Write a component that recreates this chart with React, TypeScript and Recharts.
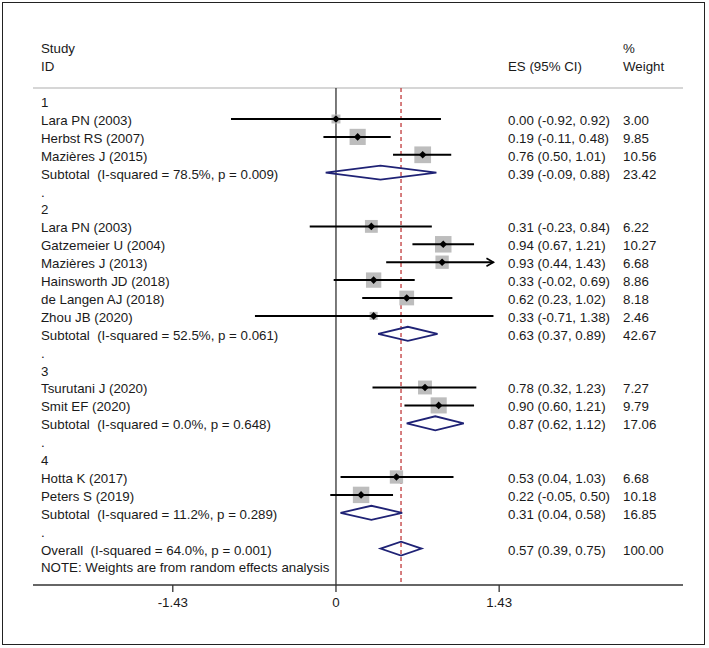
import React from 'react';
import { ScatterChart, Scatter, XAxis, YAxis, ReferenceLine } from 'recharts';

// subgroup ids
const groupIds = ['1', '2', '3', '4'];

// individual studies
const studyNames = [
  'Lara PN (2003)', 'Herbst RS (2007)', 'Mazières J (2015)',
  'Lara PN (2003)', 'Gatzemeier U (2004)', 'Mazières J (2013)', 'Hainsworth JD (2018)', 'de Langen AJ (2018)', 'Zhou JB (2020)',
  'Tsurutani J (2020)', 'Smit EF (2020)',
  'Hotta K (2017)', 'Peters S (2019)',
];
const studyGroup = [0, 0, 0, 1, 1, 1, 1, 1, 1, 2, 2, 3, 3];
const studyES = [0.0, 0.19, 0.76, 0.31, 0.94, 0.93, 0.33, 0.62, 0.33, 0.78, 0.9, 0.53, 0.22];
const studyLow = [-0.92, -0.11, 0.5, -0.23, 0.67, 0.44, -0.02, 0.23, -0.71, 0.32, 0.6, 0.04, -0.05];
const studyHigh = [0.92, 0.48, 1.01, 0.84, 1.21, 1.43, 0.69, 1.02, 1.38, 1.23, 1.21, 1.03, 0.5];
const studyWeight = [3.0, 9.85, 10.56, 6.22, 10.27, 6.68, 8.86, 8.18, 2.46, 7.27, 9.79, 6.68, 10.18];

// subtotals
const subtotalI2 = ['78.5', '52.5', '0.0', '11.2'];
const subtotalP = ['0.009', '0.061', '0.648', '0.289'];
const subtotalES = [0.39, 0.63, 0.87, 0.31];
const subtotalLow = [-0.09, 0.37, 0.62, 0.04];
const subtotalHigh = [0.88, 0.89, 1.12, 0.58];
const subtotalWeight = [23.42, 42.67, 17.06, 16.85];

// overall
const overallES = 0.57;
const overallLow = 0.39;
const overallHigh = 0.75;
const overallWeight = 100.0;
const overallI2 = '64.0';
const overallP = '0.001';

const xTicks = [-1.43, 0, 1.43];
const ciLimit = 1.38; // right end of the drawn CI range, longer CIs get an arrow

const FONT = '"Liberation Sans", Arial, Helvetica, sans-serif';
const W = 709;
const H = 648;
// plot area: x 33..683, y 40..585
const margin = { top: 40, right: 26, bottom: 33, left: 32 };
const xDomain = [-2.655, 3.041];
const yDomain = [-3.413, 27.034];
const headerLineRow = -0.732;

const fmtCI = (es: number, lo: number, hi: number) =>
  `${es.toFixed(2)} (${lo.toFixed(2)}, ${hi.toFixed(2)})`;

type TextRow = { row: number; label: string; es?: string; wt?: string };
type StudyRow = { row: number; es: number; lo: number; hi: number; w: number };
type PooledRow = { row: number; es: number; lo: number; hi: number };

const textRows: TextRow[] = [
  { row: -3, label: 'Study', wt: '%' },
  { row: -2, label: 'ID', es: 'ES (95% CI)', wt: 'Weight' },
];
const studyRows: StudyRow[] = [];
const pooledRows: PooledRow[] = [];

let r = 0;
groupIds.forEach((g, gi) => {
  textRows.push({ row: r++, label: g });
  studyNames.forEach((name, i) => {
    if (studyGroup[i] !== gi) return;
    textRows.push({ row: r, label: name, es: fmtCI(studyES[i], studyLow[i], studyHigh[i]), wt: studyWeight[i].toFixed(2) });
    studyRows.push({ row: r, es: studyES[i], lo: studyLow[i], hi: studyHigh[i], w: studyWeight[i] });
    r++;
  });
  textRows.push({
    row: r,
    label: `Subtotal  (I-squared = ${subtotalI2[gi]}%, p = ${subtotalP[gi]})`,
    es: fmtCI(subtotalES[gi], subtotalLow[gi], subtotalHigh[gi]),
    wt: subtotalWeight[gi].toFixed(2),
  });
  pooledRows.push({ row: r, es: subtotalES[gi], lo: subtotalLow[gi], hi: subtotalHigh[gi] });
  r++;
  textRows.push({ row: r++, label: '.' });
});
textRows.push({
  row: r,
  label: `Overall  (I-squared = ${overallI2}%, p = ${overallP})`,
  es: fmtCI(overallES, overallLow, overallHigh),
  wt: overallWeight.toFixed(2),
});
pooledRows.push({ row: r, es: overallES, lo: overallLow, hi: overallHigh });
r++;
textRows.push({ row: r, label: 'NOTE: Weights are from random effects analysis' });

const rowMap = new Map(textRows.map((t) => [t.row, t]));
const rowTicks = textRows.map((t) => t.row);

const textStyle = { fill: '#1a1a1a', fontSize: 13.3, fontFamily: FONT, whiteSpace: 'pre' as const };

const RowTick = (p: any) => {
  const t = rowMap.get(p.payload.value);
  if (!t) return <g />;
  const y = p.y + 1.5;
  return (
    <g>
      <text x={41} y={y} dominantBaseline="central" style={textStyle}>{t.label}</text>
      {t.es && <text x={508} y={y} dominantBaseline="central" style={textStyle}>{t.es}</text>}
      {t.wt && <text x={623} y={y} dominantBaseline="central" style={textStyle}>{t.wt}</text>}
    </g>
  );
};

const squareShape = (p: any) => {
  const side = 5.15 * Math.sqrt(p.payload.w);
  return <rect x={p.cx - side / 2} y={p.cy - side / 2} width={side} height={side} fill="#bdbdbd" />;
};

const markerShape = (p: any) => {
  const s = 3.8;
  return <polygon points={`${p.cx - s},${p.cy} ${p.cx},${p.cy - s} ${p.cx + s},${p.cy} ${p.cx},${p.cy + s}`} fill="#000" />;
};

const arrowShape = (p: any) => (
  <path d={`M${p.cx - 7},${p.cy - 4} L${p.cx},${p.cy} L${p.cx - 7},${p.cy + 4}`} fill="none" stroke="#000" strokeWidth={1.6} />
);

const emptyShape = () => <g />;

const diamondShape = (d: PooledRow) => (p: any) => {
  const { x1, x2, y1 } = p;
  const cx = x1 + ((x2 - x1) * (d.es - d.lo)) / (d.hi - d.lo);
  return (
    <polygon
      points={`${x1},${y1} ${cx},${y1 - 7} ${x2},${y1} ${cx},${y1 + 7}`}
      fill="none"
      stroke="#1f2275"
      strokeWidth={1.8}
    />
  );
};

export default function App() {
  return (
    <div style={{ position: 'absolute', left: 0, top: 0, width: W, height: H, background: '#fff' }}>
      <div
        style={{
          position: 'absolute', left: 2, top: 2, width: 703, height: 643,
          border: '1.5px solid #222', boxSizing: 'border-box', pointerEvents: 'none',
        }}
      />
      <ScatterChart width={W} height={H} margin={margin}>
        <XAxis
          type="number"
          dataKey="x"
          domain={xDomain}
          ticks={xTicks}
          interval={0}
          height={30}
          allowDataOverflow
          tickFormatter={(v: number) => String(v)}
          axisLine={{ stroke: '#333', strokeWidth: 1.3 }}
          tickLine={{ stroke: '#333', strokeWidth: 1.3 }}
          tickSize={7}
          tickMargin={6}
          tick={{ fill: '#1a1a1a', fontSize: 13.3, fontFamily: FONT }}
        />
        <YAxis
          type="number"
          dataKey="y"
          domain={yDomain}
          reversed
          allowDataOverflow
          ticks={rowTicks}
          interval={0}
          width={1}
          axisLine={false}
          tickLine={false}
          tick={RowTick}
        />
        <ReferenceLine y={headerLineRow} stroke="#c8c8c8" strokeWidth={1.5} />
        <ReferenceLine
          segment={[{ x: 0, y: headerLineRow }, { x: 0, y: yDomain[1] }]}
          stroke="#333"
          strokeWidth={1.3}
        />
        <ReferenceLine
          segment={[{ x: overallES, y: headerLineRow }, { x: overallES, y: yDomain[1] }]}
          stroke="#c0393b"
          strokeWidth={1.3}
          strokeDasharray="4 3"
        />
        <Scatter
          data={studyRows.map((s) => ({ x: s.es, y: s.row, w: s.w }))}
          shape={squareShape}
          isAnimationActive={false}
        />
        {studyRows.map((s, i) => (
          <Scatter
            key={`ci-${i}`}
            data={[{ x: s.lo, y: s.row }, { x: Math.min(s.hi, ciLimit), y: s.row }]}
            line={{ stroke: '#000', strokeWidth: 2 }}
            shape={emptyShape}
            isAnimationActive={false}
          />
        ))}
        <Scatter
          data={studyRows.filter((s) => s.hi > ciLimit).map((s) => ({ x: ciLimit, y: s.row }))}
          shape={arrowShape}
          isAnimationActive={false}
        />
        <Scatter
          data={studyRows.map((s) => ({ x: s.es, y: s.row }))}
          shape={markerShape}
          isAnimationActive={false}
        />
        {pooledRows.map((d, i) => (
          <ReferenceLine
            key={`pool-${i}`}
            segment={[{ x: d.lo, y: d.row }, { x: d.hi, y: d.row }]}
            shape={diamondShape(d)}
          />
        ))}
      </ScatterChart>
    </div>
  );
}
